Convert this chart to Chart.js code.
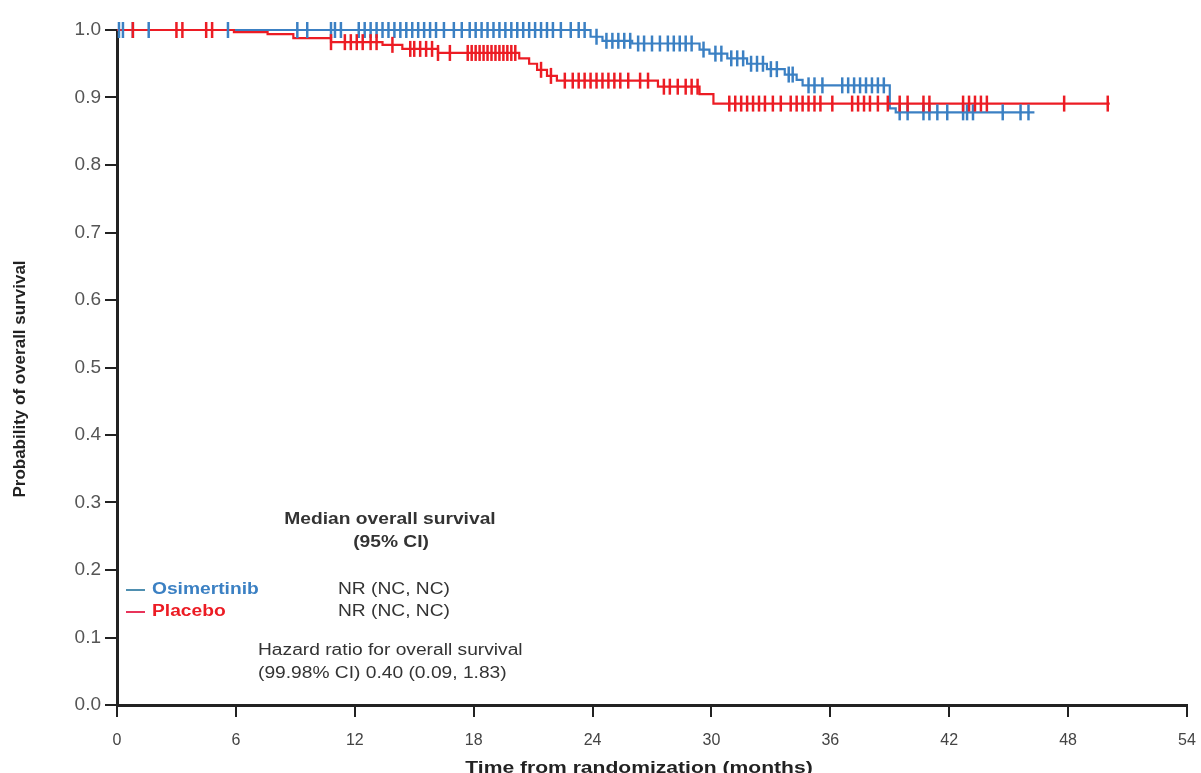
<!DOCTYPE html>
<html>
<head>
<meta charset="utf-8">
<script src="https://cdn.jsdelivr.net/npm/chart.js@4.4.1/dist/chart.umd.min.js"></script>
<style>
  html, body { margin: 0; padding: 0; background: #fff; }
  #wrap { width: 1201px; height: 773px; position: relative; }
</style>
</head>
<body>
<div id="wrap"><canvas id="km"></canvas></div>
<script>
// Kaplan-Meier steps: time (months) where the curve drops, and the new survival value
const osiTimes = [0, 23.9, 24.5, 26.0, 29.4, 29.9, 30.8, 31.8, 32.8, 33.7, 34.3, 34.6, 39.0, 39.3, 46.3];
const osiSurv  = [1.0, 0.990, 0.984, 0.980, 0.971, 0.965, 0.958, 0.950, 0.942, 0.934, 0.926, 0.918, 0.884, 0.878, 0.878];

const plaTimes = [0, 5.9, 7.6, 8.9, 10.8, 13.4, 14.4, 16.2, 20.3, 20.8, 21.2, 21.7, 22.2, 27.3, 29.4, 30.1, 50.1];
const plaSurv  = [1.0, 0.997, 0.994, 0.988, 0.982, 0.978, 0.972, 0.966, 0.958, 0.950, 0.941, 0.932, 0.925, 0.916, 0.905, 0.891, 0.891];

// censoring times (tick marks)
const osiCensor = [0.1, 0.3, 0.8, 1.6, 5.6, 9.1, 9.6, 10.8, 11.0, 11.3, 12.2, 12.5, 12.8, 13.1, 13.4, 13.7,
  14.0, 14.3, 14.6, 14.9, 15.2, 15.5, 15.8, 16.1, 16.5, 17.0, 17.4, 17.8, 18.1, 18.4, 18.7, 19.0, 19.3,
  19.6, 19.9, 20.2, 20.5, 20.8, 21.1, 21.4, 21.7, 22.0, 22.4, 22.9, 23.3, 23.6, 24.2, 24.7, 25.0, 25.3,
  25.6, 25.9, 26.3, 26.6, 27.0, 27.4, 27.8, 28.1, 28.4, 28.7, 29.0, 29.6, 30.2, 30.5, 31.0, 31.3, 31.6,
  32.0, 32.3, 32.6, 33.0, 33.3, 33.9, 34.1, 34.9, 35.2, 35.6, 36.6, 36.9, 37.2, 37.5, 37.8, 38.1, 38.4,
  38.7, 39.5, 39.9, 40.7, 41.0, 41.4, 41.9, 42.7, 42.9, 43.2, 44.7, 45.6, 46.0];
const plaCensor = [0.8, 3.0, 3.3, 4.5, 4.8, 10.8, 11.5, 11.8, 12.1, 12.4, 12.8, 13.1, 13.9, 14.8, 15.0,
  15.3, 15.6, 15.9, 16.2, 16.8, 17.7, 17.9, 18.1, 18.3, 18.5, 18.7, 18.9, 19.1, 19.3, 19.5, 19.7, 19.9,
  20.1, 21.4, 21.9, 22.6, 23.0, 23.3, 23.6, 23.9, 24.2, 24.5, 24.8, 25.1, 25.4, 25.8, 26.4, 26.8, 27.6,
  27.9, 28.3, 28.7, 29.0, 29.3, 30.9, 31.2, 31.5, 31.8, 32.1, 32.4, 32.7, 33.1, 33.5, 34.0, 34.3, 34.6,
  34.9, 35.2, 35.5, 36.1, 37.1, 37.4, 37.7, 38.0, 38.4, 38.9, 39.5, 39.9, 40.7, 41.0, 42.7, 43.0, 43.3,
  43.6, 43.9, 47.8, 50.0];

const xTicks = [0, 6, 12, 18, 24, 30, 36, 42, 48, 54];
const yTicks = [0.0, 0.1, 0.2, 0.3, 0.4, 0.5, 0.6, 0.7, 0.8, 0.9, 1.0];

const BLUE = '#3b80c3';
const RED = '#ec1c24';
const FONT = "'Liberation Sans', Arial, sans-serif";

function steps(times, surv) {
  return times.map((t, i) => ({ x: t, y: surv[i] }));
}
// survival at time t (value of step curve)
function survAt(times, surv, t) {
  let s = surv[0];
  for (let i = 0; i < times.length; i++) {
    if (times[i] <= t) s = surv[i];
  }
  return s;
}
function censorPts(cens, times, surv) {
  return cens.map(t => ({ x: t, y: survAt(times, surv, t) }));
}

// the source figure is stretched sideways, so text gets a horizontal scale
function wideText(ctx, txt, x, y, sx) {
  ctx.save();
  ctx.translate(x, y);
  ctx.scale(sx, 1);
  ctx.fillText(txt, 0, 0);
  ctx.restore();
}

// annotation text block (median OS, legend, hazard ratio) + axis titles
const annotations = {
  id: 'annotations',
  afterDraw(chart) {
    const ctx = chart.ctx;
    ctx.save();
    ctx.textBaseline = 'middle';
    ctx.fillStyle = '#333';
    ctx.font = 'bold 16px ' + FONT;
    ctx.textAlign = 'center';
    wideText(ctx, 'Median overall survival', 390, 520, 1.2);
    wideText(ctx, '(95% CI)', 391, 543, 1.2);

    ctx.textAlign = 'left';
    ctx.lineWidth = 2;
    ctx.strokeStyle = '#4f8fb0';
    ctx.beginPath(); ctx.moveTo(126, 590); ctx.lineTo(145, 590); ctx.stroke();
    ctx.strokeStyle = '#e8345a';
    ctx.beginPath(); ctx.moveTo(126, 612); ctx.lineTo(145, 612); ctx.stroke();
    ctx.fillStyle = BLUE;
    wideText(ctx, 'Osimertinib', 152, 590, 1.2);
    ctx.fillStyle = RED;
    wideText(ctx, 'Placebo', 152, 612, 1.2);

    ctx.font = '16px ' + FONT;
    ctx.fillStyle = '#333';
    wideText(ctx, 'NR (NC, NC)', 338, 590, 1.2);
    wideText(ctx, 'NR (NC, NC)', 338, 612, 1.2);
    wideText(ctx, 'Hazard ratio for overall survival', 258, 651, 1.2);
    wideText(ctx, '(99.98% CI) 0.40 (0.09, 1.83)', 258, 674, 1.2);

    // axis titles
    ctx.fillStyle = '#222';
    ctx.textAlign = 'center';
    ctx.font = 'bold 17px ' + FONT;
    wideText(ctx, 'Time from randomization (months)', 639, 768, 1.24);
    ctx.save();
    ctx.translate(20, 379);
    ctx.rotate(-Math.PI / 2);
    ctx.fillText('Probability of overall survival', 0, 0);
    ctx.restore();
    ctx.restore();
  }
};

new Chart(document.getElementById('km'), {
  type: 'line',
  data: {
    datasets: [
      {
        label: 'Osimertinib',
        data: steps(osiTimes, osiSurv),
        stepped: true,
        borderColor: BLUE,
        borderWidth: 2.2,
        pointRadius: 0,
        fill: false,
        order: 4
      },
      {
        label: 'Placebo',
        data: steps(plaTimes, plaSurv),
        stepped: true,
        borderColor: RED,
        borderWidth: 2.2,
        pointRadius: 0,
        fill: false,
        order: 3
      },
      {
        label: 'Osimertinib censored',
        data: censorPts(osiCensor, osiTimes, osiSurv),
        showLine: false,
        pointStyle: 'line',
        rotation: 90,
        pointRadius: 8,
        pointBorderWidth: 2.5,
        pointBorderColor: BLUE,
        borderColor: BLUE,
        order: 2
      },
      {
        label: 'Placebo censored',
        data: censorPts(plaCensor, plaTimes, plaSurv),
        showLine: false,
        pointStyle: 'line',
        rotation: 90,
        pointRadius: 8,
        pointBorderWidth: 2.5,
        pointBorderColor: RED,
        borderColor: RED,
        order: 1
      }
    ]
  },
  options: {
    responsive: true,
    maintainAspectRatio: false,
    animation: false,
    clip: false,
    layout: { padding: { top: 30, right: 14, left: 0, bottom: 0 } },
    plugins: {
      legend: { display: false },
      tooltip: { enabled: false }
    },
    scales: {
      x: {
        type: 'linear',
        min: 0,
        max: 54,
        afterBuildTicks: s => { s.ticks = xTicks.map(v => ({ value: v })); },
        afterFit: s => { s.height = 68; s.paddingRight = 0; s.paddingLeft = 0; },
        grid: { drawOnChartArea: false, drawTicks: true, tickLength: 12, color: '#222', lineWidth: 2 },
        border: { display: true, color: '#222', width: 3 },
        ticks: { color: '#444', font: { family: FONT, size: 16 }, padding: 14, maxRotation: 0 },
        title: { display: false }
      },
      y: {
        min: 0,
        max: 1,
        afterBuildTicks: s => { s.ticks = yTicks.map(v => ({ value: v })); },
        afterFit: s => { s.width = 117; },
        grid: { drawOnChartArea: false, drawTicks: true, tickLength: 12, color: '#222', lineWidth: 2 },
        border: { display: true, color: '#222', width: 3 },
        ticks: { color: '#555', font: { family: FONT, size: 19 }, padding: 4, callback: v => v.toFixed(1) },
        title: { display: false }
      }
    }
  },
  plugins: [annotations]
});
</script>
</body>
</html>
